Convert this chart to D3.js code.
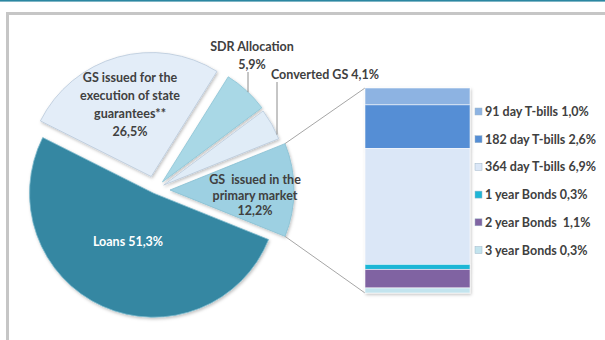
<!DOCTYPE html>
<html>
<head>
<meta charset="utf-8">
<script src="https://cdn.jsdelivr.net/npm/d3@7"></script>
<style>
  body { margin: 0; background: #fff; }
  svg text { font-family: Lato, "Open Sans", sans-serif; font-weight: 700; white-space: pre; }
</style>
</head>
<body>
<svg id="chart" width="605" height="340"></svg>
<script>
// Structure of government debt
const mainCategories = ["Loans", "GS issued for the execution of state guarantees**", "SDR Allocation", "Converted GS", "GS issued in the primary market"];
const mainValues = [51.3, 26.5, 5.9, 4.1, 12.2];
const subCategories = ["91 day T-bills", "182 day T-bills", "364 day T-bills", "1 year Bonds", "2 year Bonds", "3 year Bonds"];
const subValues = [1.0, 2.6, 6.9, 0.3, 1.1, 0.3];

const fmt = v => d3.format(".1f")(v).replace(".", ",") + "%";

const svg = d3.select("#chart");
const defs = svg.append("defs");

// page chrome
svg.append("rect").attr("width", 605).attr("height", 340).attr("fill", "#fff");
svg.append("rect").attr("x", 0).attr("y", 0).attr("width", 605).attr("height", 1.6).attr("fill", "#2b87a1");
svg.append("path").attr("d", "M7.5,340V13.5H605").attr("fill", "none")
  .attr("stroke", "#c6c6c6").attr("stroke-width", 3);

// soft shadow under the pie slices and the bar
const shadow = defs.append("filter").attr("id", "shadow")
  .attr("x", "-10%").attr("y", "-10%").attr("width", "130%").attr("height", "130%");
shadow.append("feDropShadow").attr("dx", 1).attr("dy", 1.5).attr("stdDeviation", 1.5)
  .attr("flood-color", "#000").attr("flood-opacity", 0.25);

// ---- main pie ----
const cx = 155, cy = 190, R = 124;
const explode = [3.5, 14, 11, 10, 15];
const sliceStyles = [
  { inner: "#3e94b0", outer: "#3487a2", stroke: "#78b8cc" },
  { inner: "#f0f6fd", outer: "#e3edf8", stroke: "#b9c9da" },
  { inner: "#c2e5ef", outer: "#a9d8e6", stroke: "#8cc4d6" },
  { inner: "#f0f6fd", outer: "#e0ecf7", stroke: "#b9c9da" },
  { inner: "#b9e1ee", outer: "#9dd0e2", stroke: "#86bfd2" }
];

const splitIdx = mainCategories.length - 1;
const splitSpan = mainValues[splitIdx] / d3.sum(mainValues) * 2 * Math.PI;
const start = Math.PI / 2 + splitSpan / 2;
const pie = d3.pie().sort(null).value(d => d).startAngle(start).endAngle(start + 2 * Math.PI);
const arcs = pie(mainValues);
const arc = d3.arc().innerRadius(0).outerRadius(R);

const apex = arcs.map((a, i) => {
  const mid = (a.startAngle + a.endAngle) / 2;
  return [cx + explode[i] * Math.sin(mid), cy - explode[i] * Math.cos(mid)];
});

arcs.forEach((a, i) => {
  const g = defs.append("radialGradient").attr("id", "slice" + i)
    .attr("gradientUnits", "userSpaceOnUse")
    .attr("cx", apex[i][0]).attr("cy", apex[i][1]).attr("r", R);
  g.append("stop").attr("offset", "0%").attr("stop-color", sliceStyles[i].inner);
  g.append("stop").attr("offset", "80%").attr("stop-color", sliceStyles[i].inner);
  g.append("stop").attr("offset", "100%").attr("stop-color", sliceStyles[i].outer);
});

svg.append("g").attr("filter", "url(#shadow)")
  .selectAll("path").data(arcs).join("path")
  .attr("transform", (d, i) => `translate(${apex[i][0]},${apex[i][1]})`)
  .attr("d", arc)
  .attr("fill", (d, i) => `url(#slice${i})`)
  .attr("stroke", (d, i) => sliceStyles[i].stroke)
  .attr("stroke-width", 0.8);

// point on a slice's outer arc at a given x (upper half)
function arcPointAtX(i, x) {
  const dx = x - apex[i][0];
  return [x, apex[i][1] - Math.sqrt(R * R - dx * dx)];
}

// ---- secondary bar ----
const barX = 365, barW = 105;
const y = d3.scaleLinear().domain([0, d3.sum(subValues)]).range([88, 293]);
const subColors = ["#8db3e2", "#558ed5", "#dbe7f7", "#1fb6d6", "#8064a2", "#c3e4ee"];
const cum = d3.cumsum(subValues);
const segs = subValues.map((v, i) => ({ v, i, y0: cum[i] - v, y1: cum[i] }));

// connector lines from the split slice to the bar
const split = arcs[splitIdx];
const topCorner = d3.pointRadial(split.startAngle, R);
const botCorner = d3.pointRadial(split.endAngle, R);
const conn = svg.append("g").attr("stroke", "#a6a6a6").attr("stroke-width", 1);
conn.append("line")
  .attr("x1", apex[splitIdx][0] + topCorner[0]).attr("y1", apex[splitIdx][1] + topCorner[1])
  .attr("x2", barX).attr("y2", y(0));
conn.append("line")
  .attr("x1", apex[splitIdx][0] + botCorner[0]).attr("y1", apex[splitIdx][1] + botCorner[1])
  .attr("x2", barX).attr("y2", y(d3.sum(subValues)));

const bar = svg.append("g").attr("filter", "url(#shadow)");
bar.selectAll("rect").data(segs).join("rect")
  .attr("x", barX).attr("width", barW)
  .attr("y", d => y(d.y0)).attr("height", d => y(d.y1) - y(d.y0))
  .attr("fill", d => subColors[d.i])
  .attr("stroke", "#ffffff").attr("stroke-opacity", 0.55).attr("stroke-width", 1);

// ---- legend ----
const legendGap = ["", "", "", "", " ", ""];
const legend = svg.append("g").selectAll("g").data(segs).join("g")
  .attr("transform", d => `translate(475,${111.5 + d.i * 27.7})`);
legend.append("rect").attr("x", 0).attr("y", -3.5).attr("width", 7).attr("height", 7)
  .attr("fill", d => subColors[d.i]).attr("stroke", "#9fb6c8").attr("stroke-width", 0.5);
legend.append("text").attr("x", 10).attr("y", 4.5)
  .attr("font-size", 12.5).attr("fill", "#404040")
  .text(d => subCategories[d.i] + " " + legendGap[d.i] + fmt(d.v));

// ---- pie labels ----
const labelColor = "#404040";
function multiLine(lines, x, y0, dy, color) {
  const t = svg.append("text").attr("text-anchor", "middle").attr("font-size", 12.5).attr("fill", color);
  lines.forEach((s, k) => t.append("tspan").attr("x", x).attr("y", y0 + k * dy).text(s));
}
multiLine([mainCategories[0] + " " + fmt(mainValues[0])], 128, 246, 0, "#ffffff");
multiLine(["GS issued for the", "execution of state", "guarantees**", fmt(mainValues[1])], 130, 82, 18, labelColor);
multiLine([mainCategories[2], fmt(mainValues[2])], 252, 51, 18, labelColor);
multiLine([mainCategories[3] + " " + fmt(mainValues[3])], 325, 79, 0, labelColor);
multiLine(["GS  issued in the", "primary market", fmt(mainValues[4])], 255, 184, 15.5, labelColor);

// leader lines for the small slices
const lead = svg.append("g").attr("stroke", "#8c8c8c").attr("stroke-width", 1);
const sdrEnd = arcPointAtX(2, 248);
lead.append("line").attr("x1", 248).attr("y1", 72).attr("x2", 248).attr("y2", sdrEnd[1]);
const convEnd = arcPointAtX(3, 277);
lead.append("line").attr("x1", 277).attr("y1", 82).attr("x2", 277).attr("y2", convEnd[1]);
</script>
</body>
</html>
